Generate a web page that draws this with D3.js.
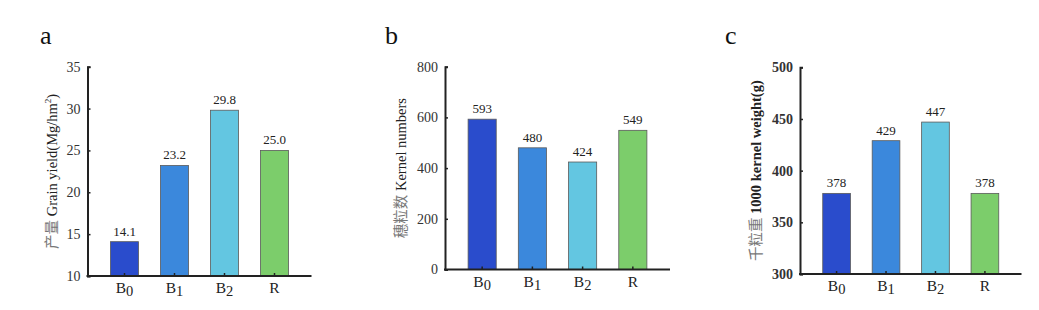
<!DOCTYPE html>
<html><head><meta charset="utf-8">
<script src="https://cdn.jsdelivr.net/npm/d3@7"></script>
<style>body{margin:0;background:#fff}</style>
</head><body>
<svg id="chart" width="1039" height="310"></svg>
<script>
const categories = ["B0", "B1", "B2", "R"];
const yieldValues = [14.1, 23.2, 29.8, 25.0];
const kernelValues = [593, 480, 424, 549];
const weightValues = [378, 429, 447, 378];
const yieldTicks = [10, 15, 20, 25, 30, 35];
const kernelTicks = [0, 200, 400, 600, 800];
const weightTicks = [300, 350, 400, 450, 500];
const barColors = ["#2a4ccc", "#3b88dc", "#63c6e1", "#7ccd6b"];

const panels = [
  {letter: "a", values: yieldValues, ticks: yieldTicks, fmt: d3.format(".1f"),
   cn: "产量", en: " Grain yield(Mg/hm", sup: "2", en2: ")",
   x0: 87.5, x1: 311.5, yT: 66.7, yB: 276, lx: 40, lblOff: 31, bold: false},
  {letter: "b", values: kernelValues, ticks: kernelTicks, fmt: d3.format("d"),
   cn: "穗粒数", en: " Kernel numbers", sup: "", en2: "",
   x0: 445, x1: 670, yT: 66.7, yB: 269.5, lx: 385, lblOff: 39, bold: false},
  {letter: "c", values: weightValues, ticks: weightTicks, fmt: d3.format("d"),
   cn: "千粒重", en: " 1000 kernel weight(g)", sup: "", en2: "",
   x0: 800, x1: 1021.5, yT: 67.3, yB: 274, lx: 725, lblOff: 39, bold: true}
];

const svg = d3.select("#chart");
const serif = "'Liberation Serif', 'Times New Roman', serif";
const ink = "#222";

panels.forEach(p => {
  const g = svg.append("g");
  const x = d3.scaleBand().domain(categories).range([p.x0, p.x1])
    .paddingInner(0.44).paddingOuter(0.46);
  const y = d3.scaleLinear().domain(d3.extent(p.ticks)).range([p.yB, p.yT]);

  g.selectAll("rect.bar").data(p.values).enter().append("rect")
    .attr("x", (d, i) => x(categories[i]))
    .attr("y", d => y(d))
    .attr("width", x.bandwidth())
    .attr("height", d => p.yB - y(d))
    .attr("fill", (d, i) => barColors[i])
    .attr("stroke", "#5a5a5a").attr("stroke-width", 0.8);

  g.selectAll("text.val").data(p.values).enter().append("text")
    .attr("x", (d, i) => x(categories[i]) + x.bandwidth() / 2)
    .attr("y", d => y(d) - 6)
    .attr("text-anchor", "middle")
    .attr("font-family", serif).attr("font-size", 13).attr("fill", ink)
    .text(d => p.fmt(d));

  const ya = d3.axisLeft(y).tickValues(p.ticks).tickSize(-3).tickPadding(7).tickFormat(d3.format("d"));
  const yg = g.append("g").attr("transform", `translate(${p.x0},0)`).call(ya);
  yg.select(".domain").attr("stroke", ink).attr("stroke-width", 2);
  yg.selectAll(".tick line").attr("stroke", ink).attr("stroke-width", 1.5);
  yg.selectAll(".tick text").attr("font-family", serif).attr("font-size", 14)
    .attr("fill", "#333").attr("font-weight", p.bold ? "bold" : "normal");

  const xa = d3.axisBottom(x).tickSize(-3).tickSizeOuter(0).tickFormat("");
  const xg = g.append("g").attr("transform", `translate(0,${p.yB})`).call(xa);
  xg.select(".domain").attr("stroke", ink).attr("stroke-width", 2)
    .attr("d", `M${p.x0 - 1},0H${p.x1}`);
  xg.selectAll(".tick line").attr("stroke", ink).attr("stroke-width", 1.5);

  categories.forEach(c => {
    const t = g.append("text")
      .attr("x", x(c) + x.bandwidth() / 2)
      .attr("y", p.yB + 17)
      .attr("text-anchor", "middle")
      .attr("font-family", serif).attr("font-size", 15.5).attr("fill", ink);
    t.append("tspan").text(c[0]);
    if (c.length > 1) {
      t.append("tspan").attr("dy", 3).attr("font-size", 14.5).text(c.slice(1));
    }
  });

  const cy = (p.yT + p.yB) / 2;
  const lab = g.append("text")
    .attr("transform", `translate(${p.x0 - p.lblOff},${cy}) rotate(-90)`)
    .attr("text-anchor", "middle")
    .attr("font-family", serif).attr("font-size", 14.5).attr("fill", ink)
    .attr("font-weight", p.bold ? "bold" : "normal");
  lab.append("tspan").attr("font-family", "'Noto Sans CJK SC', sans-serif")
    .attr("font-weight", "normal").attr("fill", "#777").text(p.cn);
  lab.append("tspan").text(p.en);
  if (p.sup) {
    lab.append("tspan").attr("dy", -6).attr("font-size", 9).text(p.sup);
    lab.append("tspan").attr("dy", 6).text(p.en2);
  }

  g.append("text").attr("x", p.lx).attr("y", 44)
    .attr("font-family", serif).attr("font-size", 26).attr("fill", "#111")
    .text(p.letter);
});
</script>
</body></html>
